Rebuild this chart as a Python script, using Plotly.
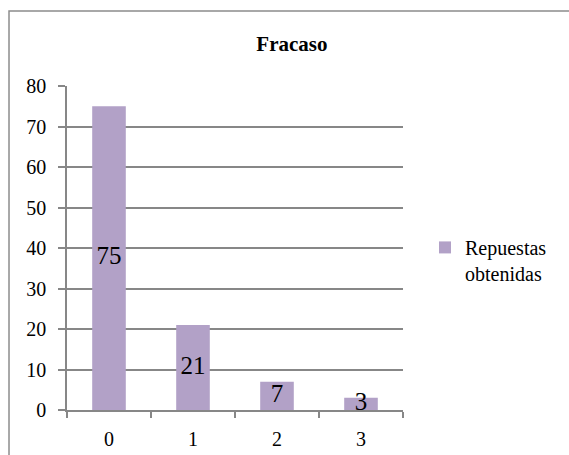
import plotly.graph_objects as go

# Survey results: number of failures reported and how many answers each got
categories = ["0", "1", "2", "3"]
respuestas = [75, 21, 7, 3]
y_ticks = [0, 10, 20, 30, 40, 50, 60, 70, 80]

SERIF = "Liberation Serif"
GRID = "#878787"
BAR = "#B2A1C7"

fig = go.Figure()
fig.add_trace(
    go.Bar(
        x=categories,
        y=respuestas,
        name="Repuestas<br>obtenidas",
        marker=dict(color=BAR, line=dict(width=0)),
        width=0.4,
    )
)

# value labels, centred half-way up each bar
fig.add_trace(
    go.Scatter(
        x=categories,
        y=[v / 2 for v in respuestas],
        mode="text",
        text=[str(v) for v in respuestas],
        textposition="middle center",
        textfont=dict(family=SERIF, size=25, color="#000000"),
        cliponaxis=False,
        showlegend=False,
        hoverinfo="skip",
    )
)

fig.update_layout(
    width=569,
    height=455,
    margin=dict(l=67, r=166, t=86, b=45, autoexpand=False),
    paper_bgcolor="white",
    plot_bgcolor="white",
    font=dict(family=SERIF, size=20, color="#000000"),
    title=dict(
        text="<b>Fracaso</b>",
        font=dict(family=SERIF, size=21, color="#000000"),
        x=0.513,
        xanchor="center",
        xref="container",
        y=0.905,
        yanchor="middle",
        yref="container",
    ),
    showlegend=True,
    legend=dict(
        x=1.0655,
        xanchor="left",
        y=0.562,
        yanchor="top",
        valign="top",
        font=dict(family=SERIF, size=20, color="#000000"),
        bgcolor="rgba(0,0,0,0)",
    ),
    xaxis=dict(
        type="category",
        range=[-0.5, 3.5],
        automargin=False,
        showgrid=False,
        showline=True,
        linecolor=GRID,
        linewidth=1.5,
        ticks="outside",
        tickson="boundaries",
        ticklen=6,
        tickwidth=1.5,
        tickcolor=GRID,
        ticklabelstandoff=10,
        tickfont=dict(family=SERIF, size=20, color="#000000"),
    ),
    yaxis=dict(
        range=[0, 80],
        tickvals=y_ticks,
        automargin=False,
        showgrid=True,
        gridcolor=GRID,
        gridwidth=1.5,
        zeroline=False,
        showline=True,
        linecolor=GRID,
        linewidth=1.5,
        ticks="outside",
        ticklen=7,
        tickwidth=1.5,
        tickcolor=GRID,
        ticklabelstandoff=8,
        tickfont=dict(family=SERIF, size=20, color="#000000"),
    ),
    shapes=[
        # chart-area border (open to the right and bottom of the page)
        dict(
            type="rect",
            xref="paper",
            yref="paper",
            x0=-0.1726,
            x1=1.55,
            y0=-0.2,
            y1=1.2315,
            line=dict(color="#8c8c8c", width=1.5),
            fillcolor="rgba(0,0,0,0)",
            layer="below",
        )
    ],
)

fig.write_html("out.html")
